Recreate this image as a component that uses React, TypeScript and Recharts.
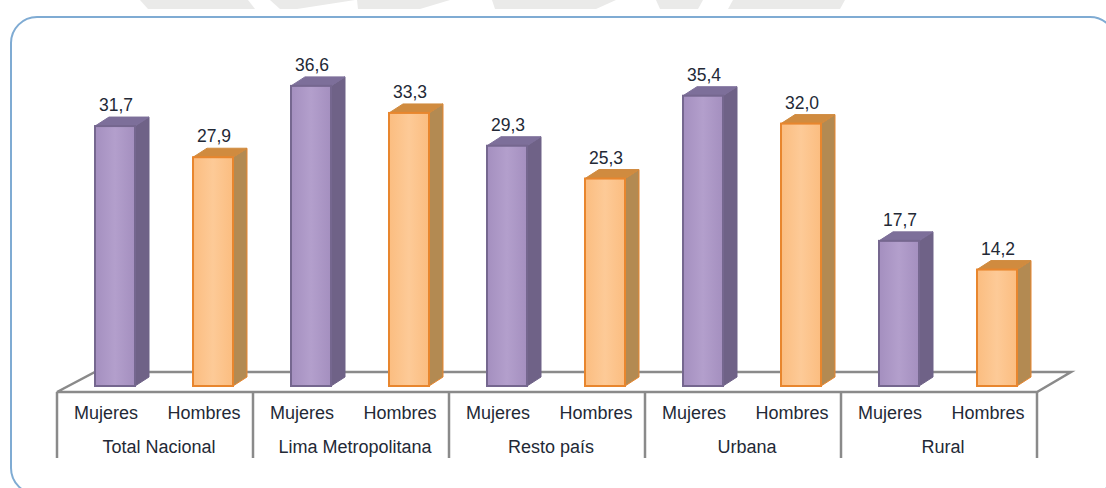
import React from "react";
import { Bar, BarChart, Cell, LabelList, ReferenceArea, XAxis, YAxis } from "recharts";

const grupos = ["Total Nacional", "Total Nacional", "Lima Metropolitana", "Lima Metropolitana", "Resto país", "Resto país", "Urbana", "Urbana", "Rural", "Rural"];
const sexos = ["Mujeres", "Hombres", "Mujeres", "Hombres", "Mujeres", "Hombres", "Mujeres", "Hombres", "Mujeres", "Hombres"];
const valores = [31.7, 27.9, 36.6, 33.3, 29.3, 25.3, 35.4, 32.0, 17.7, 14.2];

const data = valores.map((v, i) => ({ sexo: sexos[i], grupo: grupos[i], valor: v }));

const TEXT = "#232936";
const AXIS = "#8a8a8a";
const FONT = "'Liberation Sans', Arial, sans-serif";

const MORADO = { front: "url(#frenteMorado)", edge: "#75678f", side: "#6f6287", top: "#7d6f9a" };
const NARANJA = { front: "url(#frenteNaranja)", edge: "#e8862e", side: "#b38a52", top: "#d08b3f" };

// the bars stand a bit to the right of their tick, on the floor of the 3d box
const SHIFT = 9;
const DX = 14;
const DY = 9;

function Barra3D({ x, y, width, height, index }: any) {
  const c = index % 2 === 0 ? MORADO : NARANJA;
  const l = x + SHIFT;
  const r = l + width;
  const b = y + height;
  return (
    <g>
      <polygon points={`${r},${y} ${r + DX},${y - DY} ${r + DX},${b - DY} ${r},${b}`} fill={c.side} stroke={index % 2 === 0 ? c.side : c.edge} strokeWidth={1} />
      <polygon points={`${l},${y} ${l + DX},${y - DY} ${r + DX},${y - DY} ${r},${y}`} fill={c.top} stroke={c.top} strokeWidth={1} />
      <rect x={l} y={y} width={width} height={height} fill={c.front} stroke={c.edge} strokeWidth={2} />
    </g>
  );
}

function Piso({ x, y, width, height }: any) {
  const b = y + height;
  const pts = `${x},${b} ${x + width},${b} ${x + width + 34},${y} ${x + 38},${y}`;
  return <polygon points={pts} fill="#ffffff" stroke={AXIS} strokeWidth={2.5} />;
}

function TickSexo({ x, y, payload }: any) {
  return (
    <text x={x} y={y + 21} textAnchor="middle" dominantBaseline="central" fontSize={18} fontFamily={FONT} fill={TEXT}>
      {payload.value}
    </text>
  );
}

function TickGrupo({ x, y, payload, index }: any) {
  const band = 98;
  const ty = y + 12;
  const top = ty - 55;
  const bottom = ty + 11;
  if (index % 2 === 1) {
    if (index !== grupos.length - 1) return null;
    return <line x1={x + band / 2} x2={x + band / 2} y1={top} y2={bottom} stroke={AXIS} strokeWidth={2.5} />;
  }
  return (
    <g>
      <line x1={x - band / 2} x2={x - band / 2} y1={top} y2={bottom} stroke={AXIS} strokeWidth={2.5} />
      <text x={x + band / 2 + 4} y={ty} textAnchor="middle" dominantBaseline="central" fontSize={18} fontFamily={FONT} fill={TEXT}>
        {payload.value}
      </text>
    </g>
  );
}

function Marca() {
  // faint scan of the page behind the figure
  const trozos = [
    "140,0 248,0 255,9 148,9",
    "270,0 355,0 297,9 280,9",
    "357,0 450,0 420,9 358,9",
    "492,0 616,0 596,9 495,9",
    "656,0 703,0 698,9 660,9",
    "733,0 845,0 840,9 728,9",
  ];
  return (
    <svg width={1106} height={10} style={{ position: "absolute", left: 0, top: 0 }}>
      {trozos.map((p, i) => (
        <polygon key={i} points={p} fill="#eaeaE9" />
      ))}
    </svg>
  );
}

export default function App() {
  return (
    <div style={{ position: "absolute", left: 0, top: 0, width: 1106, height: 488, overflow: "hidden", background: "#ffffff" }}>
      <Marca />
      <div
        style={{
          position: "absolute",
          left: 10,
          top: 16,
          width: 1107,
          height: 479,
          boxSizing: "border-box",
          border: "2px solid #7fabd3",
          borderRadius: 27,
        }}
      />
      <div style={{ position: "absolute", left: 0, top: 0 }}>
        <BarChart
          width={1106}
          height={488}
          data={data}
          barCategoryGap={29}
          margin={{ top: 58, right: 69, bottom: 0, left: 57 }}
        >
          <defs>
            <linearGradient id="frenteMorado" x1="0" y1="0" x2="1" y2="0">
              <stop offset="0%" stopColor="#a48fbf" />
              <stop offset="50%" stopColor="#b39fcc" />
              <stop offset="100%" stopColor="#a48fbf" />
            </linearGradient>
            <linearGradient id="frenteNaranja" x1="0" y1="0" x2="1" y2="0">
              <stop offset="0%" stopColor="#fbbd80" />
              <stop offset="50%" stopColor="#fdca97" />
              <stop offset="100%" stopColor="#fbbd80" />
            </linearGradient>
          </defs>
          <XAxis dataKey="sexo" interval={0} axisLine={false} tickLine={false} height={41} tick={<TickSexo />} tickMargin={0} padding={{ left: 0, right: 0 }} />
          <XAxis dataKey="grupo" xAxisId="grupo" allowDuplicatedCategory interval={0} axisLine={false} tickLine={false} height={61} tick={<TickGrupo />} />
          <YAxis hide domain={[0, 40]} />
          <ReferenceArea y1={-0.73} y2={1.71} ifOverflow="visible" shape={<Piso />} />
          <Bar dataKey="valor" shape={<Barra3D />} isAnimationActive={false}>
            {data.map((_, i) => (
              <Cell key={i} />
            ))}
            <LabelList
              dataKey="valor"
              position="top"
              offset={15}
              dx={SHIFT + 1}
              fontSize={17.5}
              fontFamily={FONT}
              fill={TEXT}
              formatter={(v: number) => v.toFixed(1).replace(".", ",")}
            />
          </Bar>
        </BarChart>
      </div>
    </div>
  );
}
